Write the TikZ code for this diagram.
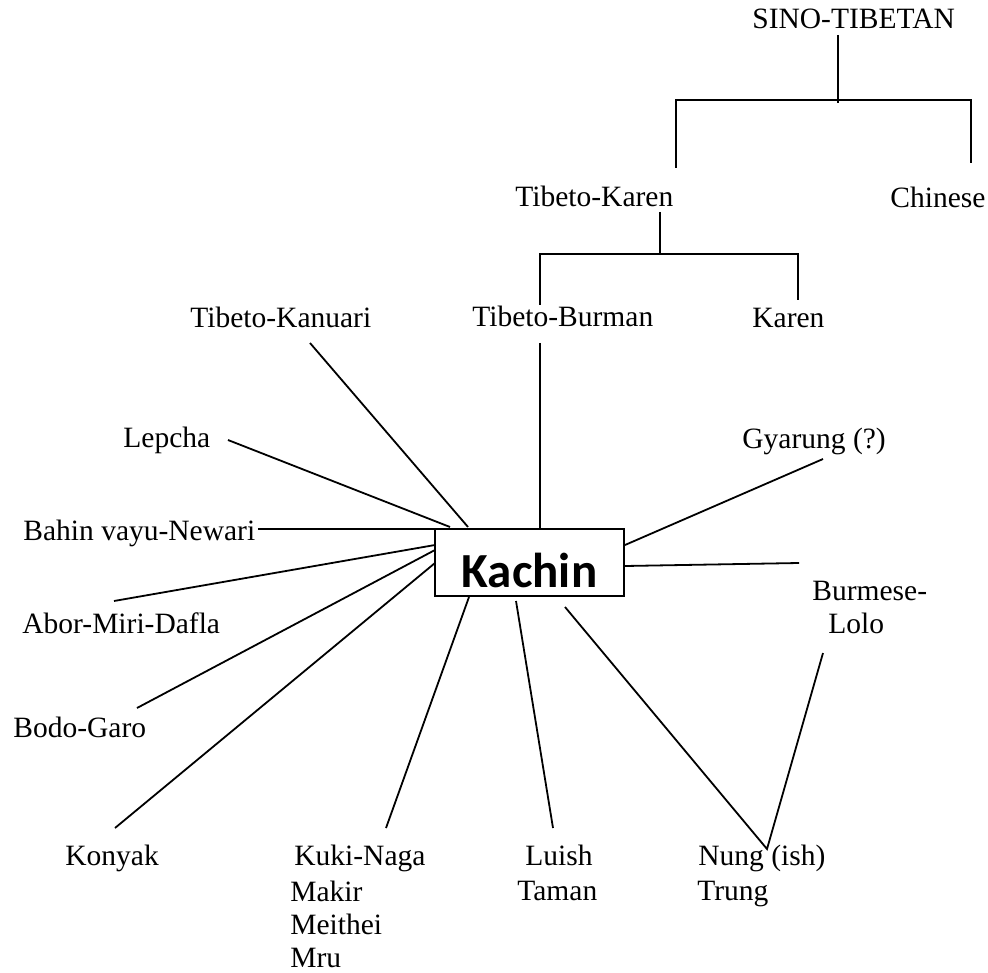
\documentclass[tikz,border=0pt]{standalone}
\usepackage{fontspec}
\setmainfont{Liberation Serif}
\newfontfamily\kachinfont{Carlito}
\begin{document}
\begin{tikzpicture}[x=0.5pt,y=-0.5pt,
  lbl/.style={anchor=base west,inner sep=0pt,font=\fontsize{14.75}{16.5}\selectfont},
  ln/.style={line width=0.9pt,black},
  kbox/.style={draw,line width=0.9pt,minimum width=94.5pt,minimum height=33.5pt,inner sep=0pt,
    text height=25.3pt,text depth=0pt,font=\kachinfont\bfseries\fontsize{24.5}{26}\selectfont}]
\useasboundingbox (0,0) rectangle (988,972);

% labels
\node[lbl] (sino) at (752,29) {SINO-TIBETAN};
\node[lbl] (tk) at (515,207) {Tibeto-Karen};
\node[lbl] (chinese) at (890,208) {Chinese};
\node[lbl] (kanuari) at (190,328) {Tibeto-Kanuari};
\node[lbl] (tb) at (472,327) {Tibeto-Burman};
\node[lbl] (karen) at (752,328) {Karen};
\node[lbl] (lepcha) at (123,447) {Lepcha};
\node[lbl] (gyarung) at (742,448) {Gyarung (?)};
\node[lbl] (bahin) at (23,540) {Bahin vayu-Newari};
\node[lbl] (burmese) at (812,600) {Burmese-};
\node[lbl] (lolo) at (828,633) {Lolo};
\node[lbl] (abor) at (22,633) {Abor-Miri-Dafla};
\node[lbl] (bodo) at (13,737) {Bodo-Garo};
\node[lbl] (konyak) at (65,865) {Konyak};
\node[lbl] (kuki) at (294,865) {Kuki-Naga};
\node[lbl] (makir) at (290,901) {Makir};
\node[lbl] (meithei) at (290,934) {Meithei};
\node[lbl] (mru) at (290,967) {Mru};
\node[lbl] (luish) at (525,865) {Luish};
\node[lbl] (taman) at (517,900) {Taman};
\node[lbl] (nung) at (698,865) {Nung (ish)};
\node[lbl] (trung) at (697,900) {Trung};

\node[kbox] (kachin) at (529.5,562.5) {Kachin};

% tree coordinates
\coordinate (s0) at (838,35);
\coordinate (s1) at (838,103);
\coordinate (bl) at (676,100);
\coordinate (br) at (971,100);
\coordinate (tkTop) at (676,168);
\coordinate (chTop) at (971,163);
\coordinate (t0) at (660,212);
\coordinate (t1) at (660,254);
\coordinate (cl) at (540,254);
\coordinate (cr) at (798,254);
\coordinate (tbTop) at (540,305);
\coordinate (krTop) at (798,300);

\draw[ln] (s0) -- (s1);
\draw[ln] (tkTop) |- (bl) -- (br) -- (chTop);
\draw[ln] (t0) -- (t1);
\draw[ln] (tbTop) |- (cl) -- (cr) -- (krTop);

% spoke coordinates
\coordinate (tbE) at (540,343);   \coordinate (tbK) at (540,529);
\coordinate (kanE) at (310,343);  \coordinate (kanK) at (468,527);
\coordinate (lepE) at (228,440);  \coordinate (lepK) at (450,527);
\coordinate (bahE) at (258,529);  \coordinate (bahK) at (508,529);
\coordinate (aboE) at (114,601);  \coordinate (aboK) at (435,545);
\coordinate (bodE) at (137,708);  \coordinate (bodK) at (435,550);
\coordinate (konE) at (115,828);  \coordinate (konK) at (435,563);
\coordinate (kukE) at (386,828);  \coordinate (kukK) at (469,597);
\coordinate (luiE) at (553,828);  \coordinate (luiK) at (516,601);
\coordinate (nunK) at (565,607);  \coordinate (nunV) at (767,849);
\coordinate (lolE) at (823,653);
\coordinate (gyaE) at (823,459);  \coordinate (gyaK) at (625,545);
\coordinate (burE) at (799,563);  \coordinate (burK) at (625,566);

\draw[ln] (tbE) -- (tbK);
\draw[ln] (kanE) -- (kanK);
\draw[ln] (lepE) -- (lepK);
\draw[ln] (bahE) -- (bahK);
\draw[ln] (aboE) -- (aboK);
\draw[ln] (bodE) -- (bodK);
\draw[ln] (konE) -- (konK);
\draw[ln] (kukE) -- (kukK);
\draw[ln] (luiE) -- (luiK);
\draw[ln] (nunK) -- (nunV) -- (lolE);
\draw[ln] (gyaE) -- (gyaK);
\draw[ln] (burE) -- (burK);
\end{tikzpicture}
\end{document}
